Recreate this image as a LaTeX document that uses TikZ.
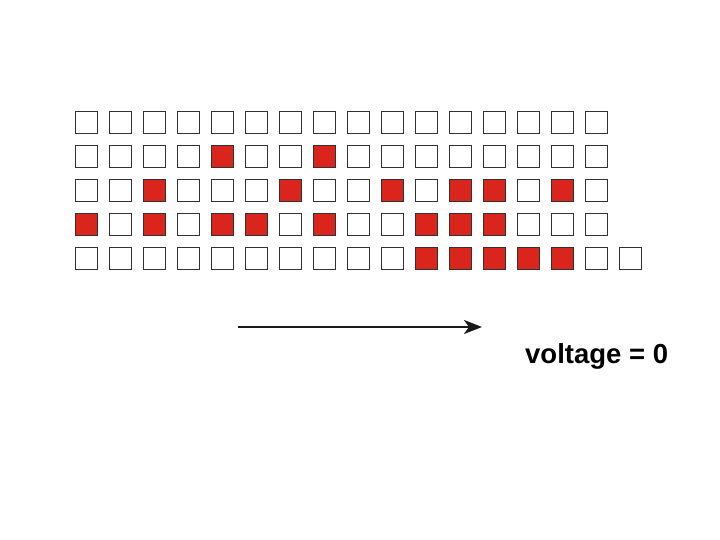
\documentclass[tikz,border=0pt]{standalone}
\usepackage{fontspec}
\setmainfont{Liberation Sans}
\usetikzlibrary{arrows.meta}
\definecolor{cellred}{RGB}{218,37,29}
\definecolor{celledge}{RGB}{50,50,50}
\tikzset{
  cell/.style={draw=celledge, line width=1.8pt, fill=white, minimum size=22pt, inner sep=0pt, outer sep=0pt},
  redcell/.style={cell, fill=cellred},
  flow/.style={line width=2.4pt, draw=black!90, -{Stealth[length=18pt,width=14pt,inset=5pt]}},
  label/.style={font=\bfseries\fontsize{27.5}{30}\selectfont, inner sep=0pt}
}
\begin{document}
\begin{tikzpicture}[x=1pt,y=-1pt]
\useasboundingbox (0,0) rectangle (720,540);
\fill[white] (0,0) rectangle (720,540);
% white cells
\foreach \j in {0,...,3}{
  \foreach \i in {0,...,15}{
    \node[cell] (c-\i-\j) at (86.5+34*\i,122.5+34*\j) {};
  }
}
\foreach \i in {0,...,16}{
  \node[cell] (c-\i-4) at (86.5+34*\i,122.5+34*4) {};
}
% red cells
\foreach \i/\j in {4/1,7/1,2/2,6/2,9/2,11/2,12/2,14/2,0/3,2/3,4/3,5/3,7/3,10/3,11/3,12/3,10/4,11/4,12/4,13/4,14/4}{
  \node[redcell] at (c-\i-\j) {};
}
\coordinate (astart) at (238,327);
\coordinate (aend) at (482,327);
\draw[flow] (astart) -- (aend);
\node[label, anchor=base west] (volt) at (525,363) {voltage = 0};
\end{tikzpicture}
\end{document}
